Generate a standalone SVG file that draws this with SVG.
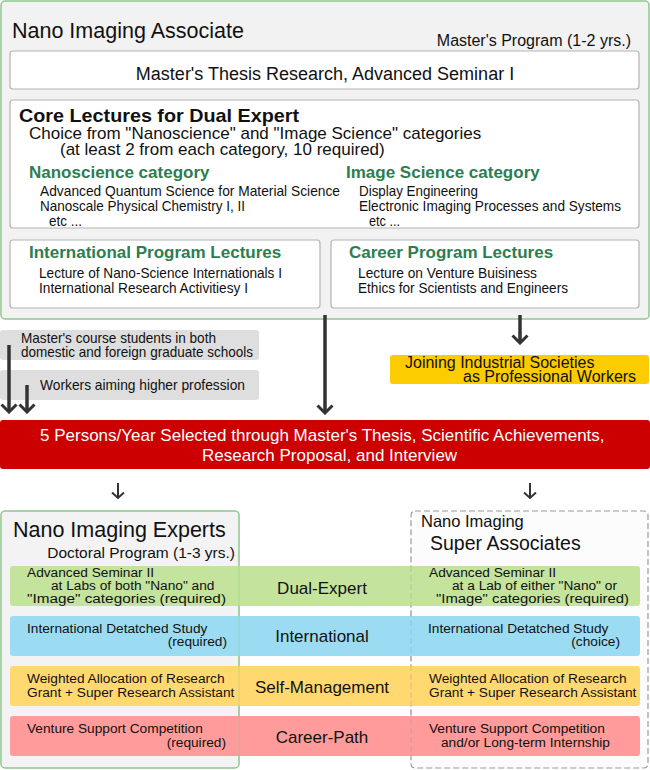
<svg xmlns="http://www.w3.org/2000/svg" width="650" height="770" viewBox="0 0 650 770">
<defs>
<style>
text{font-family:"Liberation Sans",Arial,sans-serif;fill:#111;}
.h1{font-size:21.5px;}
.t16{font-size:16px;}
.t17{font-size:17px;}
.t18{font-size:18px;}
.cond{font-size:14.5px;}
.b{font-size:13.7px;}
.bc{font-size:17px;}
.gt{font-size:17px;font-weight:bold;fill:#2e7d50;}
.w{fill:#fff;font-size:17px;}
.green{fill:#f2f2f2;stroke:#8ec88e;stroke-width:1.5;}
.inner{fill:#fff;stroke:#b4b4b4;stroke-width:1.2;}
.grey{fill:#dedede;}
.band{stroke:none;}
.arr{stroke:#333;stroke-width:3.5;fill:none;}
.arrs{stroke:#333;stroke-width:2;fill:none;}
</style>
<marker id="chev" viewBox="-9 -10 11 20" refX="0" refY="0" markerWidth="11" markerHeight="20" markerUnits="userSpaceOnUse" orient="auto">
<path d="M-7.5,-7.5 L0,0 L-7.5,7.5" fill="none" stroke="#333" stroke-width="3"/>
</marker>
<marker id="chevs" viewBox="-7 -7 9 14" refX="0" refY="0" markerWidth="9" markerHeight="14" markerUnits="userSpaceOnUse" orient="auto">
<path d="M-5.5,-6 L0,0 L-5.5,6" fill="none" stroke="#333" stroke-width="2"/>
</marker>
</defs>

<g id="associate">
<rect class="green" x="1" y="1" width="648" height="318" rx="4"/>
<text class="h1" x="12" y="38">Nano Imaging Associate</text>
<text class="t16" x="631" y="46" text-anchor="end">Master's Program (1-2 yrs.)</text>
</g>

<g id="thesis">
<rect class="inner" x="10" y="51" width="629" height="38" rx="3"/>
<text class="t18" x="325" y="80" text-anchor="middle">Master's Thesis Research, Advanced Seminar I</text>
</g>

<g id="core">
<rect class="inner" x="10" y="100" width="629" height="128" rx="3"/>
<text x="19" y="122" style="font-size:19px;font-weight:bold" textLength="280" lengthAdjust="spacingAndGlyphs">Core Lectures for Dual Expert</text>
<text class="t17" x="29" y="139">Choice from "Nanoscience" and "Image Science" categories</text>
<text class="t17" x="60" y="155">(at least 2 from each category, 10 required)</text>
<text class="gt" x="29" y="178">Nanoscience category</text>
<text class="cond" x="40" y="196" textLength="300" lengthAdjust="spacingAndGlyphs">Advanced Quantum Science for Material Science</text>
<text class="cond" x="40" y="211" textLength="205" lengthAdjust="spacingAndGlyphs">Nanoscale Physical Chemistry I, II</text>
<text class="cond" x="49" y="226" textLength="33" lengthAdjust="spacingAndGlyphs">etc ...</text>
<text class="gt" x="346" y="178">Image Science category</text>
<text class="cond" x="359" y="196" textLength="119" lengthAdjust="spacingAndGlyphs">Display Engineering</text>
<text class="cond" x="359" y="211" textLength="262" lengthAdjust="spacingAndGlyphs">Electronic Imaging Processes and Systems</text>
<text class="cond" x="369" y="226" textLength="31" lengthAdjust="spacingAndGlyphs">etc ...</text>
</g>

<g id="intl-lectures">
<rect class="inner" x="10" y="240" width="310" height="68" rx="3"/>
<text class="gt" x="29" y="258">International Program Lectures</text>
<text class="cond" x="39" y="278" textLength="243" lengthAdjust="spacingAndGlyphs">Lecture of Nano-Science Internationals I</text>
<text class="cond" x="39" y="293" textLength="209" lengthAdjust="spacingAndGlyphs">International Research Activitiesy I</text>
</g>

<g id="career-lectures">
<rect class="inner" x="331" y="240" width="308" height="68" rx="3"/>
<text class="gt" x="349" y="258">Career Program Lectures</text>
<text class="cond" x="358" y="278" textLength="179" lengthAdjust="spacingAndGlyphs">Lecture on Venture Buisiness</text>
<text class="cond" x="358" y="293" textLength="210" lengthAdjust="spacingAndGlyphs">Ethics for Scientists and Engineers</text>
</g>

<g id="students">
<rect class="grey" x="0" y="330" width="259" height="30" rx="3"/>
<text class="cond" x="21" y="343" textLength="195" lengthAdjust="spacingAndGlyphs">Master's course students in both</text>
<text class="cond" x="21" y="357" textLength="232" lengthAdjust="spacingAndGlyphs">domestic and foreign graduate schools</text>
</g>

<g id="workers">
<rect class="grey" x="0" y="370" width="259" height="30" rx="3"/>
<text class="cond" x="40" y="390" textLength="205" lengthAdjust="spacingAndGlyphs">Workers aiming higher profession</text>
</g>

<g id="industry">
<rect x="390" y="355" width="259" height="29" rx="3" fill="#fccb00"/>
<text class="t16" x="405" y="368">Joining Industrial Societies</text>
<text class="t16" x="463" y="382">as Professional Workers</text>
</g>

<g id="selection">
<rect x="0" y="420" width="650" height="49" rx="3" fill="#cc0000"/>
<text class="w" x="40" y="441">5 Persons/Year Selected through Master's Thesis, Scientific Achievements,</text>
<text class="w" x="202" y="461">Research Proposal, and Interview</text>
</g>

<g id="experts">
<rect class="green" x="1" y="511" width="238" height="257" rx="4" style="fill:#f3f3f3"/>
<text class="h1" x="13" y="537">Nano Imaging Experts</text>
<text x="235" y="558" text-anchor="end" style="font-size:15.5px">Doctoral Program (1-3 yrs.)</text>
</g>

<g id="super-associates">
<rect x="411" y="511" width="237" height="257" rx="4" fill="#fcfcfc" stroke="#9a9a9a" stroke-width="1.2" stroke-dasharray="6 3"/>
<text x="421" y="527" style="font-size:16.5px">Nano Imaging</text>
<text x="430" y="550" style="font-size:19.5px">Super Associates</text>
</g>

<g id="dual-expert">
<rect class="band" x="10" y="566" width="630" height="40" rx="3" fill="#c4e39c"/>
<text class="b" x="27" y="577">Advanced Seminar II</text>
<text class="b" x="51" y="590">at Labs of both "Nano" and</text>
<text class="b" x="27" y="603" textLength="199" lengthAdjust="spacingAndGlyphs">"Image" categories (required)</text>
<text class="bc" x="322" y="594" text-anchor="middle">Dual-Expert</text>
<text class="b" x="429" y="577">Advanced Seminar II</text>
<text class="b" x="452" y="590">at a Lab of either "Nano" or</text>
<text class="b" x="436" y="603" textLength="193" lengthAdjust="spacingAndGlyphs">"Image" categories (required)</text>
</g>

<g id="international">
<rect class="band" x="10" y="616" width="630" height="40" rx="3" fill="#9cdcf2"/>
<text class="b" x="27" y="633">International Detatched Study</text>
<text class="b" x="227" y="646" text-anchor="end">(required)</text>
<text class="bc" x="322" y="642" text-anchor="middle">International</text>
<text class="b" x="428" y="633">International Detatched Study</text>
<text class="b" x="620" y="646" text-anchor="end">(choice)</text>
</g>

<g id="self-management">
<rect class="band" x="10" y="666" width="630" height="40" rx="3" fill="#ffd970"/>
<text class="b" x="27" y="683">Weighted Allocation of Research</text>
<text class="b" x="27" y="697">Grant + Super Research Assistant</text>
<text class="bc" x="322" y="693" text-anchor="middle">Self-Management</text>
<text class="b" x="429" y="683">Weighted Allocation of Research</text>
<text class="b" x="429" y="697">Grant + Super Research Assistant</text>
</g>

<g id="career-path">
<rect class="band" x="10" y="716" width="630" height="40" rx="3" fill="#ff9b9b"/>
<text class="b" x="27" y="733">Venture Support Competition</text>
<text class="b" x="226" y="747" text-anchor="end">(required)</text>
<text class="bc" x="322" y="743" text-anchor="middle">Career-Path</text>
<text class="b" x="429" y="733">Venture Support Competition</text>
<text class="b" x="441" y="747">and/or Long-term Internship</text>
</g>

<g id="box-edges" fill="none" stroke-width="1.2">
<line x1="239" y1="566" x2="239" y2="756" stroke="#8ec88e" stroke-opacity="0.35"/>
<line x1="411" y1="566" x2="411" y2="756" stroke="#9a9a9a" stroke-opacity="0.35" stroke-dasharray="6 3"/>
</g>

<g id="connectors">
<line class="arr" x1="9" y1="345" x2="9" y2="412" marker-end="url(#chev)"/>
<line class="arr" x1="27" y1="385" x2="27" y2="412" marker-end="url(#chev)"/>
<line class="arr" x1="325" y1="315" x2="325" y2="413" marker-end="url(#chev)"/>
<line class="arr" x1="520" y1="315" x2="520" y2="343" marker-end="url(#chev)"/>
<line class="arrs" x1="118" y1="483" x2="118" y2="498" marker-end="url(#chevs)"/>
<line class="arrs" x1="530" y1="483" x2="530" y2="498" marker-end="url(#chevs)"/>
</g>
</svg>
